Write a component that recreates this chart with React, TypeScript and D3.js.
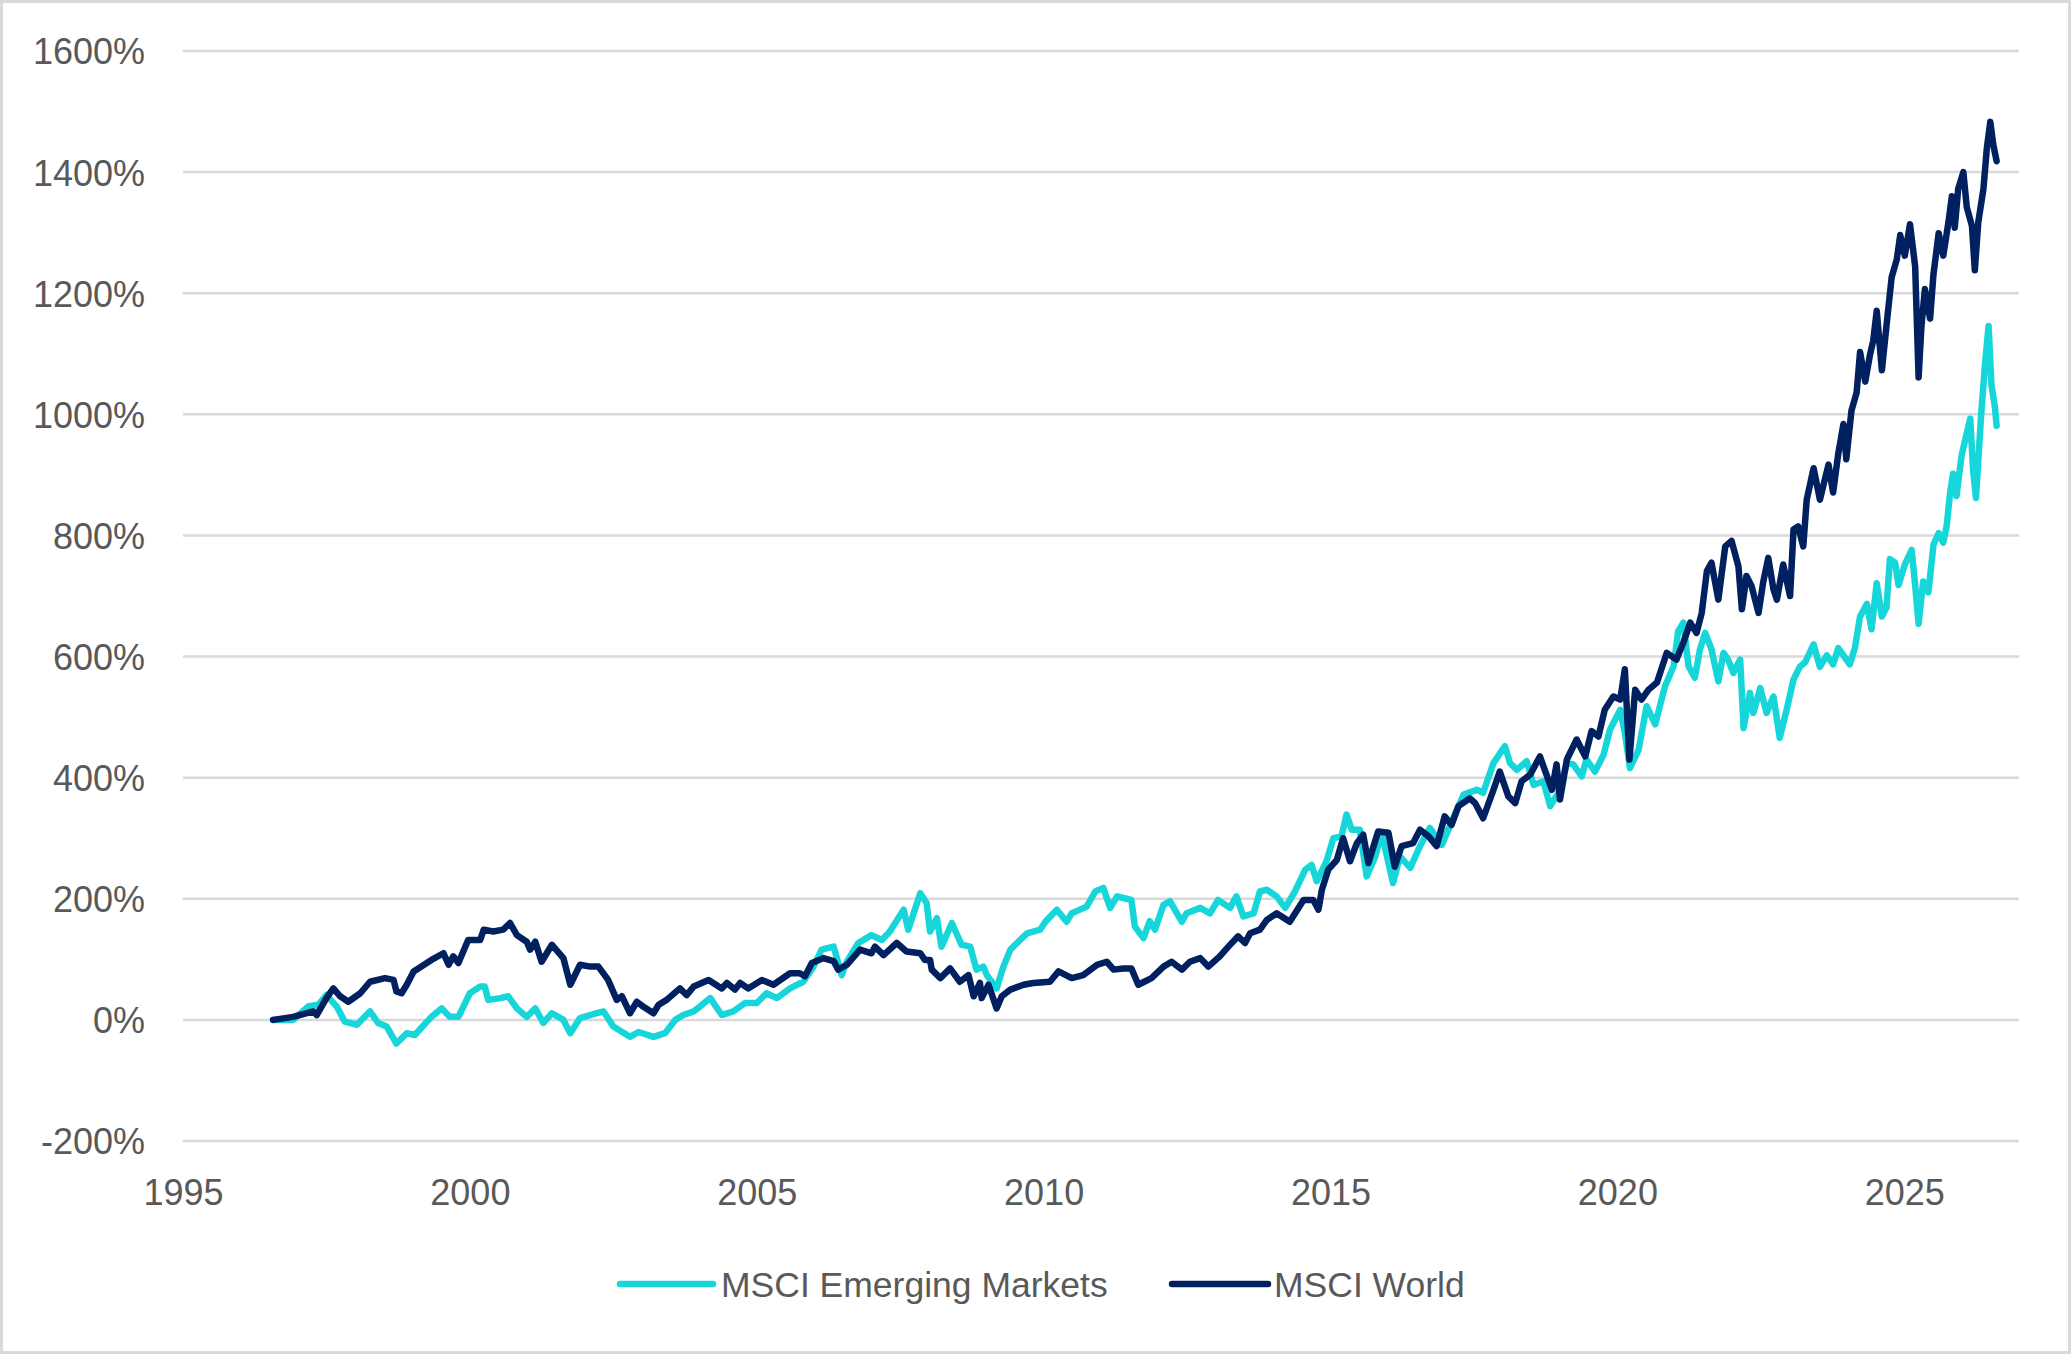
import React, { useEffect, useRef } from "react";
import * as d3 from "d3";

// Tick labels
const yTicks = [-200, 0, 200, 400, 600, 800, 1000, 1200, 1400, 1600];
const xTicks = [1995, 2000, 2005, 2010, 2015, 2020, 2025];

const seriesNames = ["MSCI Emerging Markets", "MSCI World"];
const seriesColors = ["#17d6da", "#002060"];

// [year, cumulative return %]
const emergingMarkets: [number, number][] = [
  [1996.57, 0], [1996.92, 0], [1997.18, 22], [1997.36, 25], [1997.5, 41], [1997.68, 22],
  [1997.82, -3], [1998.03, -8], [1998.26, 14], [1998.4, -5], [1998.55, -11], [1998.72, -39],
  [1998.9, -22], [1999.04, -25], [1999.33, 5], [1999.51, 19], [1999.65, 5], [1999.8, 5],
  [2000.0, 44], [2000.18, 55], [2000.26, 55], [2000.32, 33], [2000.53, 36], [2000.67, 39],
  [2000.82, 19], [2000.99, 5], [2001.14, 19], [2001.28, -5], [2001.43, 11], [2001.63, 0],
  [2001.75, -22], [2001.92, 3], [2002.21, 11], [2002.33, 14], [2002.5, -11], [2002.79, -28],
  [2002.94, -20], [2003.2, -28], [2003.4, -22], [2003.58, 0], [2003.72, 8], [2003.9, 14],
  [2004.01, 22], [2004.19, 36], [2004.39, 8], [2004.59, 14], [2004.8, 28], [2005.0, 28],
  [2005.17, 44], [2005.35, 36], [2005.58, 52], [2005.81, 63], [2005.99, 88], [2006.13, 116],
  [2006.34, 121], [2006.48, 74], [2006.57, 96], [2006.77, 127], [2007.0, 140], [2007.18, 132],
  [2007.32, 146], [2007.56, 182], [2007.64, 149], [2007.85, 209], [2007.96, 193], [2008.02, 146],
  [2008.14, 168], [2008.22, 121], [2008.4, 160], [2008.57, 124], [2008.72, 121], [2008.83, 83],
  [2008.95, 88], [2009.01, 74], [2009.18, 52], [2009.3, 88], [2009.42, 116], [2009.59, 132],
  [2009.71, 143], [2009.94, 149], [2010.03, 162], [2010.23, 182], [2010.4, 162], [2010.49, 176],
  [2010.75, 187], [2010.9, 212], [2011.04, 218], [2011.16, 185], [2011.28, 204], [2011.53, 198],
  [2011.59, 154], [2011.74, 135], [2011.85, 163], [2011.94, 149], [2012.09, 190], [2012.2, 196],
  [2012.41, 162], [2012.49, 176], [2012.73, 185], [2012.9, 176], [2013.04, 198], [2013.25, 185],
  [2013.36, 204], [2013.48, 171], [2013.66, 176], [2013.77, 212], [2013.89, 215], [2014.06, 204],
  [2014.21, 185], [2014.38, 212], [2014.56, 248], [2014.67, 256], [2014.76, 229], [2014.93, 262],
  [2015.05, 300], [2015.19, 303], [2015.28, 339], [2015.37, 314], [2015.51, 314], [2015.63, 237],
  [2015.78, 270], [2015.89, 309], [2016.09, 226], [2016.21, 270], [2016.39, 251], [2016.56, 287],
  [2016.73, 317], [2016.94, 289], [2017.08, 320], [2017.32, 372], [2017.55, 380], [2017.66, 375],
  [2017.84, 424], [2018.04, 452], [2018.13, 424], [2018.25, 413], [2018.42, 427], [2018.54, 388],
  [2018.71, 394], [2018.83, 353], [2018.97, 375], [2019.12, 424], [2019.23, 422], [2019.38, 402],
  [2019.46, 430], [2019.61, 410], [2019.76, 438], [2019.87, 479], [2020.05, 512], [2020.13, 474],
  [2020.22, 416], [2020.37, 446], [2020.51, 518], [2020.66, 488], [2020.74, 518], [2020.83, 551],
  [2020.98, 584], [2021.06, 642], [2021.15, 656], [2021.24, 584], [2021.35, 565], [2021.44, 612],
  [2021.53, 639], [2021.64, 612], [2021.76, 559], [2021.85, 606], [2021.93, 595], [2022.02, 573],
  [2022.14, 595], [2022.2, 482], [2022.31, 540], [2022.37, 507], [2022.49, 548], [2022.6, 507],
  [2022.72, 534], [2022.83, 466], [2022.95, 512], [2023.07, 562], [2023.18, 583], [2023.27, 590],
  [2023.42, 620], [2023.53, 583], [2023.65, 602], [2023.76, 587], [2023.85, 614], [2023.94, 602],
  [2024.05, 587], [2024.14, 614], [2024.23, 666], [2024.35, 687], [2024.43, 645], [2024.52, 721],
  [2024.61, 666], [2024.69, 681], [2024.75, 761], [2024.84, 755], [2024.9, 718], [2025.01, 752],
  [2025.13, 776], [2025.19, 718], [2025.25, 654], [2025.33, 724], [2025.42, 706], [2025.51, 785],
  [2025.6, 804], [2025.68, 788], [2025.74, 816], [2025.8, 871], [2025.85, 902], [2025.91, 865],
  [2026.0, 932], [2026.06, 957], [2026.15, 993], [2026.2, 908], [2026.25, 862], [2026.32, 969],
  [2026.35, 1012], [2026.41, 1085], [2026.47, 1146], [2026.52, 1048], [2026.58, 1012], [2026.61, 981],
];

const world: [number, number][] = [
  [1996.57, 0], [1996.92, 5], [1997.27, 14], [1997.33, 8], [1997.5, 36], [1997.62, 52],
  [1997.74, 39], [1997.88, 30], [1998.09, 44], [1998.26, 63], [1998.52, 69], [1998.67, 66],
  [1998.72, 47], [1998.81, 44], [1998.9, 58], [1999.02, 80], [1999.33, 99], [1999.54, 110],
  [1999.63, 91], [1999.71, 105], [1999.8, 94], [1999.97, 132], [2000.18, 132], [2000.24, 149],
  [2000.41, 146], [2000.58, 149], [2000.7, 160], [2000.82, 140], [2000.99, 129], [2001.05, 116],
  [2001.14, 129], [2001.25, 96], [2001.43, 124], [2001.63, 102], [2001.75, 58], [2001.92, 91],
  [2002.1, 88], [2002.24, 88], [2002.41, 66], [2002.56, 33], [2002.65, 39], [2002.79, 11],
  [2002.91, 30], [2003.02, 22], [2003.2, 11], [2003.29, 25], [2003.43, 33], [2003.66, 52],
  [2003.78, 41], [2003.9, 55], [2004.16, 66], [2004.39, 52], [2004.48, 61], [2004.62, 50],
  [2004.71, 61], [2004.85, 52], [2005.09, 66], [2005.29, 58], [2005.58, 77], [2005.75, 77],
  [2005.84, 72], [2005.96, 94], [2006.16, 102], [2006.34, 97], [2006.42, 83], [2006.57, 91],
  [2006.8, 116], [2007.0, 110], [2007.06, 121], [2007.21, 107], [2007.44, 127], [2007.61, 113],
  [2007.85, 110], [2007.93, 99], [2008.02, 99], [2008.05, 83], [2008.2, 69], [2008.37, 85],
  [2008.54, 63], [2008.69, 74], [2008.78, 39], [2008.89, 61], [2008.92, 36], [2009.04, 58],
  [2009.18, 19], [2009.27, 39], [2009.42, 50], [2009.65, 58], [2009.82, 61], [2010.11, 63],
  [2010.26, 80], [2010.49, 69], [2010.69, 74], [2010.93, 91], [2011.1, 96], [2011.22, 83],
  [2011.39, 85], [2011.53, 85], [2011.65, 58], [2011.88, 69], [2012.09, 88], [2012.23, 96],
  [2012.41, 83], [2012.55, 96], [2012.73, 102], [2012.87, 88], [2013.07, 105], [2013.22, 121],
  [2013.39, 138], [2013.51, 127], [2013.6, 143], [2013.77, 149], [2013.89, 165], [2014.06, 176],
  [2014.29, 162], [2014.53, 198], [2014.7, 198], [2014.79, 182], [2014.85, 215], [2014.96, 248],
  [2015.11, 264], [2015.22, 300], [2015.34, 262], [2015.46, 292], [2015.57, 306], [2015.66, 259],
  [2015.83, 311], [2016.01, 309], [2016.12, 253], [2016.24, 287], [2016.44, 292], [2016.56, 314],
  [2016.71, 303], [2016.85, 287], [2016.99, 336], [2017.11, 322], [2017.23, 353], [2017.43, 366],
  [2017.52, 358], [2017.66, 333], [2017.84, 380], [2017.95, 410], [2018.1, 369], [2018.22, 358],
  [2018.33, 394], [2018.48, 405], [2018.65, 435], [2018.86, 380], [2018.94, 422], [2019.0, 364],
  [2019.12, 430], [2019.29, 463], [2019.44, 435], [2019.55, 477], [2019.67, 468], [2019.78, 512],
  [2019.93, 534], [2020.05, 529], [2020.13, 579], [2020.21, 430], [2020.31, 545], [2020.42, 529],
  [2020.54, 545], [2020.69, 557], [2020.86, 606], [2021.03, 595], [2021.15, 623], [2021.27, 656],
  [2021.38, 639], [2021.47, 672], [2021.56, 741], [2021.64, 755], [2021.76, 694], [2021.88, 782],
  [2021.99, 791], [2022.11, 749], [2022.17, 678], [2022.25, 733], [2022.34, 716], [2022.46, 672],
  [2022.54, 722], [2022.63, 763], [2022.72, 711], [2022.78, 694], [2022.89, 752], [2023.01, 700],
  [2023.07, 810], [2023.15, 815], [2023.24, 782], [2023.3, 859], [2023.42, 911], [2023.53, 859],
  [2023.68, 917], [2023.76, 871], [2023.85, 935], [2023.94, 984], [2023.99, 926], [2024.08, 1006],
  [2024.17, 1036], [2024.23, 1103], [2024.32, 1054], [2024.4, 1097], [2024.46, 1122], [2024.52, 1171],
  [2024.61, 1073], [2024.69, 1146], [2024.78, 1226], [2024.87, 1256], [2024.93, 1296], [2025.01, 1262],
  [2025.1, 1314], [2025.19, 1244], [2025.25, 1061], [2025.3, 1146], [2025.36, 1207], [2025.45, 1158],
  [2025.51, 1232], [2025.6, 1299], [2025.68, 1262], [2025.77, 1317], [2025.83, 1360], [2025.88, 1308],
  [2025.94, 1372], [2026.03, 1400], [2026.09, 1342], [2026.18, 1311], [2026.23, 1238], [2026.29, 1317],
  [2026.38, 1372], [2026.44, 1440], [2026.5, 1483], [2026.55, 1446], [2026.61, 1418],
];

const W = 2071;
const H = 1354;
const plot = { left: 183, right: 2019, top: 51, bottom: 1141 };
const font = "'Liberation Sans', Arial, sans-serif";
const textColor = "#595959";

const App: React.FC = () => {
  const svgRef = useRef<SVGSVGElement | null>(null);

  useEffect(() => {
    if (!svgRef.current) return;
    document.body.style.margin = "0";

    const svg = d3.select(svgRef.current);
    svg.selectAll("*").remove();

    // chart area + border
    svg
      .append("rect")
      .attr("x", 1.5)
      .attr("y", 1.5)
      .attr("width", W - 3)
      .attr("height", H - 3)
      .attr("fill", "#fff")
      .attr("stroke", "#d9d9d9")
      .attr("stroke-width", 3);

    const x = d3.scaleLinear().domain([1995, 2027]).range([plot.left, plot.right]);
    const y = d3.scaleLinear().domain([-200, 1600]).range([plot.bottom, plot.top]);

    // horizontal gridlines
    svg
      .append("g")
      .selectAll("line")
      .data(yTicks)
      .enter()
      .append("line")
      .attr("x1", plot.left)
      .attr("x2", plot.right)
      .attr("y1", (d) => y(d))
      .attr("y2", (d) => y(d))
      .attr("stroke", "#d9d9d9")
      .attr("stroke-width", 2.5);

    // y axis labels
    const yAxis = svg
      .append("g")
      .attr("transform", `translate(${plot.left},0)`)
      .call(
        d3
          .axisLeft(y)
          .tickValues(yTicks)
          .tickSize(0)
          .tickPadding(38)
          .tickFormat((d) => `${d}%`)
      );
    yAxis.select(".domain").remove();
    yAxis
      .selectAll("text")
      .attr("dy", "0.36em")
      .style("font-family", font)
      .style("font-size", "36px")
      .attr("fill", textColor);

    // x axis labels
    const xAxis = svg
      .append("g")
      .attr("transform", `translate(0,${plot.bottom})`)
      .call(
        d3
          .axisBottom(x)
          .tickValues(xTicks)
          .tickSize(0)
          .tickPadding(38)
          .tickFormat(d3.format("d"))
      );
    xAxis.select(".domain").remove();
    xAxis
      .selectAll("text")
      .style("font-family", font)
      .style("font-size", "36px")
      .attr("fill", textColor);

    const line = d3
      .line<[number, number]>()
      .x((d) => x(d[0]))
      .y((d) => y(d[1]));

    [emergingMarkets, world].forEach((series, i) => {
      svg
        .append("path")
        .datum(series)
        .attr("d", line)
        .attr("fill", "none")
        .attr("stroke", seriesColors[i])
        .attr("stroke-width", 6.5)
        .attr("stroke-linejoin", "round")
        .attr("stroke-linecap", "round");
    });

    // legend
    const legendY = 1284;
    const legendItems = [
      { x1: 620, x2: 713, tx: 721 },
      { x1: 1172, x2: 1268, tx: 1274 },
    ];
    const legend = svg.append("g");
    legendItems.forEach((item, i) => {
      legend
        .append("line")
        .attr("x1", item.x1)
        .attr("x2", item.x2)
        .attr("y1", legendY)
        .attr("y2", legendY)
        .attr("stroke", seriesColors[i])
        .attr("stroke-width", 6.5)
        .attr("stroke-linecap", "round");
      legend
        .append("text")
        .attr("x", item.tx)
        .attr("y", legendY)
        .attr("dy", "0.36em")
        .style("font-family", font)
        .style("font-size", "35.5px")
        .attr("fill", textColor)
        .text(seriesNames[i]);
    });
  }, []);

  return <svg ref={svgRef} width={W} height={H} style={{ display: "block" }} />;
};

export default App;
